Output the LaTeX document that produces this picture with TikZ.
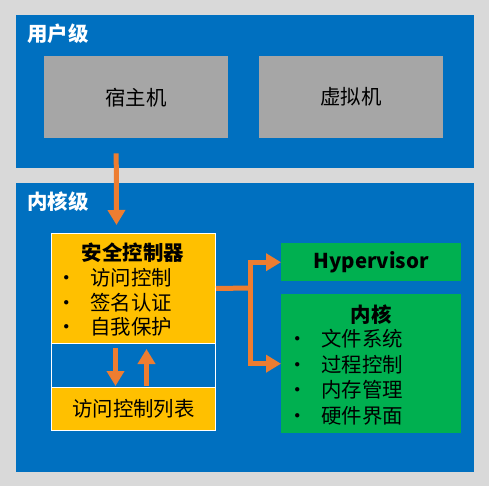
\documentclass[tikz,border=0pt]{standalone}
\usepackage{fontspec}
\setmainfont{Noto Sans CJK SC}
\usetikzlibrary{arrows.meta,positioning}

\begin{document}
\begin{tikzpicture}[x=1bp, y=-1bp,
        every node/.style={font=\fontsize{20.5}{25}\selectfont, inner sep=0pt},
        levelbox/.style={fill=lvlblue, anchor=north west, minimum width=458bp},
        levellabel/.style={text=white, font=\fontsize{20.5}{25}\selectfont\bfseries, anchor=west},
        hostbox/.style={fill=boxgray, anchor=north west, minimum width=184bp, minimum height=82bp},
        ctrlbox/.style={draw=white, line width=1bp, anchor=north west, minimum width=164bp},
        greenbox/.style={fill=boxgreen, anchor=north west, minimum width=180bp},
        boxtitle/.style={font=\fontsize{20.5}{25}\selectfont\bfseries},
        listitem/.style={anchor=west},
        flowarrow/.style={draw=arroworange, line width=5bp, -{Triangle[width=17bp,length=15bp]}}]
        \definecolor{pagegray}{RGB}{217,217,217}
        \definecolor{lvlblue}{RGB}{0,112,192}
        \definecolor{boxgray}{RGB}{166,166,166}
        \definecolor{boxyellow}{RGB}{255,192,0}
        \definecolor{boxgreen}{RGB}{0,176,80}
        \definecolor{arroworange}{RGB}{237,125,49}

        % page background
        \fill[pagegray] (0,0) rectangle (489,486);

        % User level
        \node[levelbox, minimum height=153bp] (userlvl) at (16,15) {};
        \node[levellabel] (userlabel) at (27,34) {用户级};
        \node[hostbox] (host) at (44,56) {宿主机};
        \node[hostbox] (vm) at (259,56) {虚拟机};

        % Kernel level
        \node[levelbox, minimum height=289bp] (kernlvl) at (16,183) {};
        \node[levellabel] (kernlabel) at (27,202) {内核级};

        % Security controller, middle gap and access list
        \node[ctrlbox, fill=boxyellow, minimum height=110bp] (ctrl) at (51,233) {};
        \node[ctrlbox, minimum height=44bp] (mid) at (51,343) {};
        \node[ctrlbox, fill=boxyellow, minimum height=43bp] (acl) at (51,387) {访问控制列表};
        \node[boxtitle] (ctrltitle) at (133,253) {安全控制器};
        \foreach \txt [count=\i] in {访问控制,签名认证,自我保护}
            \node[listitem] (ctrlitem\i) at (56,253+24.7*\i) {\makebox[34bp][l]{\textbullet}\txt};

        % Hypervisor and kernel boxes
        \node[greenbox, minimum height=38bp, boxtitle] (hyper) at (281,243) {Hypervisor};
        \node[greenbox, minimum height=139bp] (kernel) at (281,294) {};
        \node[boxtitle] (kerntitle) at (371,315) {内核};
        \foreach \txt [count=\i] in {文件系统,过程控制,内存管理,硬件界面}
            \node[listitem] (kernitem\i) at (287,313.5+25.5*\i) {\makebox[34bp][l]{\textbullet}\txt};

        % Arrows
        \draw[flowarrow] ([shift={(-20,15)}]host.south) -- ([shift={(-17,-8)}]ctrl.north);
        \draw[flowarrow] ([shift={(-18,5)}]mid.north) -- ([shift={(-18,-2)}]mid.south);
        \draw[flowarrow] ([shift={(13,-2)}]mid.south) -- ([shift={(13,6)}]mid.north);
        \coordinate (fork) at (250,288);
        \draw[arroworange, line width=5bp] (ctrl.east) -- (fork);
        \draw[flowarrow] (fork) |- (hyper.west);
        \draw[flowarrow] (fork) |- (kernel.west);
    \end{tikzpicture}
\end{document}
